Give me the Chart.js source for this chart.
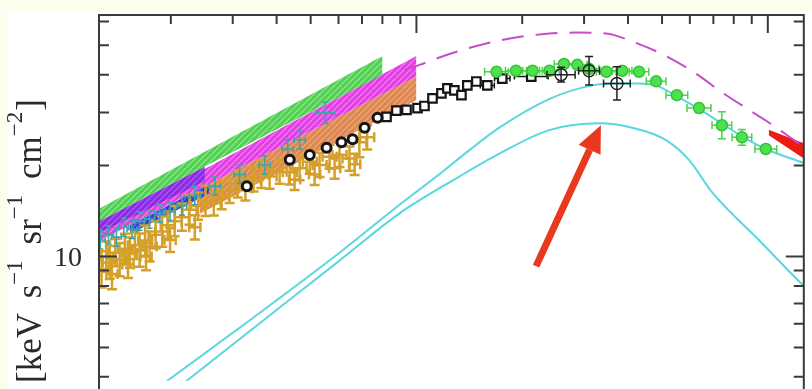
<!DOCTYPE html>
<html>
<head>
<meta charset="utf-8">
<script src="https://cdn.jsdelivr.net/npm/chart.js@4.4.1/dist/chart.umd.min.js"></script>
<style>
  html, body { margin: 0; padding: 0; background: #fdfdee; }
  canvas { display: block; }
</style>
</head>
<body>
<canvas id="cxbChart" width="812" height="389"></canvas>
<script>
// energy in keV, flux in keV s-1 sr-1 cm-2 (E^2 dN/dE)

// gold crosses (soft X-ray points)
const goldE = [1.27, 1.31, 1.34, 1.36, 1.39, 1.43, 1.48, 1.51, 1.53, 1.58, 1.63, 1.69, 1.70, 1.74, 1.81, 1.89, 1.96, 1.99,
  2.05, 2.15, 2.26, 2.34, 2.39, 2.51, 2.65, 2.79, 2.94, 3.10, 3.26, 3.44, 3.62, 3.82, 4.08, 4.36, 4.50,
  4.65, 4.97, 5.13, 5.30, 5.66, 5.85, 6.04, 6.45, 6.67, 6.88, 7.24];
const goldF = [9.08, 10.0, 9.56, 8.75, 10.3, 9.78, 10.6, 9.42, 10.3, 10.9, 10.5, 11.3, 10.0, 10.8, 11.8, 12.1, 12.7, 11.35,
  13.1, 13.5, 14.3, 12.5, 14.7, 15.3, 15.0, 15.9, 16.5, 17.4, 16.8, 18.0, 18.7, 18.4, 19.1, 19.0, 18.0,
  19.6, 20.6, 18.7, 20.1, 21.4, 19.6, 21.7, 21.1, 20.2, 23.9, 24.8];
const goldErrF = [0.06, 0.05, 0.055, 0.05, 0.045, 0.055, 0.05, 0.045, 0.05, 0.045, 0.055, 0.05, 0.045, 0.05, 0.045, 0.05, 0.045, 0.04,
  0.05, 0.045, 0.05, 0.04, 0.045, 0.05, 0.04, 0.045, 0.04, 0.045, 0.04, 0.04, 0.045, 0.04, 0.04, 0.04, 0.035,
  0.04, 0.04, 0.035, 0.04, 0.04, 0.035, 0.04, 0.04, 0.035, 0.05, 0.04];
const goldErrE = [0.02, 0.02, 0.02, 0.016, 0.02, 0.02, 0.02, 0.016, 0.02, 0.02, 0.02, 0.02, 0.016, 0.02, 0.02, 0.02, 0.02, 0.016,
  0.02, 0.02, 0.02, 0.016, 0.02, 0.02, 0.02, 0.02, 0.02, 0.02, 0.02, 0.02, 0.02, 0.02, 0.02, 0.02, 0.016,
  0.02, 0.02, 0.016, 0.02, 0.02, 0.016, 0.02, 0.02, 0.016, 0.02, 0.02];

// teal crosses
const tealE = [1.26, 1.33, 1.40, 1.47, 1.55, 1.63, 1.74, 1.86, 1.99, 2.15, 2.34, 2.67, 3.14, 3.70, 4.30, 4.65, 5.51];
const tealF = [11.35, 11.8, 11.6, 12.5, 12.3, 13.1, 13.3, 13.9, 14.1, 14.7, 15.9, 17.1, 18.7, 20.1, 22.7, 24.3, 29.9];
const tealErrF = [0.03, 0.03, 0.03, 0.03, 0.03, 0.03, 0.03, 0.03, 0.03, 0.03, 0.03, 0.03, 0.03, 0.03, 0.03, 0.03, 0.035];
const tealErrE = [0.014, 0.014, 0.014, 0.014, 0.014, 0.014, 0.014, 0.014, 0.014, 0.014, 0.016, 0.016, 0.016, 0.016, 0.016, 0.016, 0.028];

// black points
const blackRoundE = [3.29, 4.36, 4.97, 5.55, 6.12, 6.58, 7.12, 7.75];
const blackRoundF = [17.1, 20.9, 21.7, 22.9, 23.9, 24.45, 26.7, 28.8];
const blackSquareE = [8.22, 8.77, 9.37, 10.07, 10.54, 11.11, 11.78, 12.25, 12.82, 13.43, 13.96, 14.81, 15.91, 17.55, 21.22];
const blackSquareF = [29.0, 30.4, 30.6, 31.0, 31.5, 33.4, 34.7, 36.0, 35.5, 34.2, 36.85, 37.96, 36.85, 38.8, 39.4];
const blackSquareErrE = [0.01, 0.01, 0.01, 0.01, 0.01, 0.01, 0.01, 0.01, 0.01, 0.01, 0.01, 0.012, 0.02, 0.022, 0.048];
const blackSquareErrF = [0.01, 0.01, 0.01, 0.01, 0.01, 0.01, 0.01, 0.01, 0.01, 0.01, 0.01, 0.01, 0.01, 0.01, 0.01];
const blackOpenE = [25.8, 31.0, 37.2];
const blackOpenF = [40.0, 41.2, 37.4];
const blackOpenErrE = [0.04, 0.03, 0.038];
const blackOpenErrF = [0.024, 0.047, 0.055];

// green circles (hard X-ray)
const greenE = [16.9, 19.2, 21.4, 23.9, 26.3, 28.7, 31.0, 34.7, 38.5, 43.0, 48.1, 55.1, 63.7, 74.0, 84.4, 98.7];
const greenF = [40.9, 41.2, 41.2, 41.2, 43.4, 43.1, 41.8, 40.9, 41.2, 40.9, 38.0, 34.2, 31.0, 27.2, 24.8, 22.7];
const greenErrE = [0.034, 0.03, 0.028, 0.028, 0.028, 0.028, 0.028, 0.028, 0.028, 0.028, 0.028, 0.031, 0.034, 0.028, 0.028, 0.031];
const greenErrF = [0.01, 0.01, 0.01, 0.01, 0.01, 0.01, 0.01, 0.01, 0.01, 0.01, 0.012, 0.012, 0.015, 0.045, 0.026, 0.012];

// model curves
const modelE = [9.25, 10.2, 12.41, 17.21, 23.87, 28.5, 34.66, 41.09, 51.31, 63.68, 72.6, 88.3, 98.7, 112.5, 126.6, 135.1];
const modelF = [41.5, 43.1, 46.8, 51.9, 54.7, 55.1, 54.7, 51.5, 46.1, 39.7, 35.5, 30.6, 28.2, 25.4, 23.05, 22.0];
const cyanUpperE = [1.433, 3.355, 6.04, 8.95, 11.40, 14.15, 17.21, 23.87, 31.62, 37.24, 43.0, 48.06, 55.14, 63.68, 74.0, 84.4, 98.7, 126.6, 135.1];
const cyanUpperF = [2.98, 6.16, 10.3, 14.84, 18.4, 22.5, 26.7, 33.2, 36.85, 37.4, 37.4, 36.85, 33.9, 30.8, 27.55, 25.0, 22.7, 20.4, 19.85];
const cyanLowerE = [1.633, 3.581, 6.04, 8.95, 13.25, 17.21, 23.87, 33.11, 41.09, 51.31, 59.65, 69.35, 94.3, 126.6, 135.1];
const cyanLowerF = [2.93, 6.02, 9.7, 13.9, 18.4, 21.9, 26.2, 27.6, 26.7, 24.3, 20.9, 16.35, 11.35, 8.0, 7.48];

// hatched bands: [E at start, E at end], lower and upper edge fluxes
const greenBandE = [1.249, 8.006];
const greenBandLo = [13.08, 40.0];
const greenBandHi = [14.4, 46.1];
const magentaBandE = [1.249, 10.0];
const magentaBandLo = [11.27, 39.4];
const magentaBandHi = [12.69, 46.1];
const violetBandE = [1.249, 2.50];
const violetBandLo = [11.96, 17.75];
const violetBandHi = [13.08, 19.85];
const blueBandE = [1.53, 2.582];
const blueBandLo = [11.87, 16.2];
const blueBandHi = [12.69, 17.43];
const orangeBandE = [2.42, 10.0];
const orangeBandLo = [13.86, 32.95];
const orangeBandHi = [16.76, 39.4];
const redBandE = [100.6, 126.6];
const redBandLo = [25.2, 21.1];
const redBandHi = [26.3, 23.7];

// red arrow (tail, tip) in data coordinates
const arrowTail = [21.9, 9.3];
const arrowTip = [33.5, 27.2];

// axis ticks
const xTickValues = [2, 3, 4, 5, 6, 7, 8, 9, 10, 20, 30, 40, 50, 60, 70, 80, 90, 100];
const xMajorTicks = [10, 100];
const yTickValues = [4, 5, 6, 7, 8, 9, 10, 20, 30, 40, 50, 60];
const yMajorTicks = [10];
const yTickLabels = ["10"];
const yLabelParts = [["[keV", false], [" s", false], ["\u22121", true], [" sr", false], ["\u22121", true], [" cm", false], ["\u22122", true], ["]", false]];

function pts(xs, ys) {
  return xs.map((x, i) => ({ x: x, y: ys[i] }));
}

function hatch(base, line) {
  const c = document.createElement("canvas");
  c.width = 6;
  c.height = 6;
  const g = c.getContext("2d");
  g.fillStyle = base;
  g.fillRect(0, 0, 6, 6);
  g.strokeStyle = line;
  g.lineWidth = 1.3;
  g.beginPath();
  for (let k = -6; k <= 6; k += 6) {
    g.moveTo(k, 6);
    g.lineTo(k + 6, 0);
  }
  g.stroke();
  return g.createPattern(c, "repeat");
}

function edge(e, f, order) {
  return { data: pts(e, f), showLine: true, borderWidth: 0, pointRadius: 0, fill: false, order: order };
}

function band(e, f, pattern, order) {
  return { data: pts(e, f), showLine: true, borderWidth: 0, pointRadius: 0, fill: "-1", backgroundColor: pattern, order: order };
}

const datasets = [
  edge(magentaBandE, magentaBandLo, 20),
  band(magentaBandE, magentaBandHi, hatch("#e23fe2", "#f07ef0"), 20),
  edge(orangeBandE, orangeBandLo, 21),
  band(orangeBandE, orangeBandHi, hatch("#de8752", "#eaa77c"), 21),
  edge(blueBandE, blueBandLo, 18),
  band(blueBandE, blueBandHi, hatch("#2e3ed6", "#5a6ae6"), 18),
  edge(violetBandE, violetBandLo, 17),
  band(violetBandE, violetBandHi, hatch("#8a2be2", "#a95cf0"), 17),
  edge(greenBandE, greenBandLo, 16),
  band(greenBandE, greenBandHi, hatch("#52cf52", "#8fe48f"), 16),
  edge(redBandE, redBandLo, 15),
  band(redBandE, redBandHi, "#ee1a12", 15),
  {
    data: pts(cyanUpperE, cyanUpperF), showLine: true, borderColor: "#5ad7de", borderWidth: 2,
    pointRadius: 0, cubicInterpolationMode: "monotone", order: 12
  },
  {
    data: pts(cyanLowerE, cyanLowerF), showLine: true, borderColor: "#5ad7de", borderWidth: 2,
    pointRadius: 0, cubicInterpolationMode: "monotone", order: 12
  },
  {
    data: pts(modelE, modelF), showLine: true, borderColor: "#c84bcb", borderWidth: 2, borderDash: [22, 12],
    pointRadius: 0, cubicInterpolationMode: "monotone", order: 11
  },
  {
    data: pts(goldE, goldF), pointRadius: 0, errE: goldErrE, errF: goldErrF,
    errColor: "#d4a02a", errWidth: 2.5, errCap: 5, order: 9
  },
  {
    data: pts(tealE, tealF), pointRadius: 0, errE: tealErrE, errF: tealErrF,
    errColor: "#3aa6aa", errWidth: 1.6, errCap: 3, order: 8
  },
  {
    data: pts(blackRoundE, blackRoundF), pointStyle: "circle", pointRadius: 4.5,
    borderColor: "#151515", borderWidth: 3, backgroundColor: "#ffffff", order: 6
  },
  {
    data: pts(blackSquareE, blackSquareF), pointStyle: "rect", pointRadius: 6,
    borderColor: "#151515", borderWidth: 2.2, backgroundColor: "#ffffff",
    errE: blackSquareErrE, errF: blackSquareErrF, errColor: "#151515", errWidth: 1.5, errCap: 3, order: 6
  },
  {
    data: pts(greenE, greenF), pointStyle: "circle", pointRadius: 5.5,
    borderColor: "#33c433", borderWidth: 1.5, backgroundColor: "#4fe04f",
    errE: greenErrE, errF: greenErrF, errColor: "#49d449", errWidth: 1.5, errCap: 4, order: 5
  },
  {
    data: pts(blackOpenE, blackOpenF), pointStyle: "circle", pointRadius: 6,
    borderColor: "#222222", borderWidth: 1.5, backgroundColor: "rgba(0,0,0,0)",
    errE: blackOpenErrE, errF: blackOpenErrF, errColor: "#222222", errWidth: 1.5, errCap: 4, order: 4
  }
];

const errorBars = {
  id: "errorBars",
  beforeDatasetDraw(chart, args) {
    const ds = chart.data.datasets[args.index];
    if (!ds.errE && !ds.errF) return;
    const xs = chart.scales.x, ys = chart.scales.y, a = chart.chartArea;
    const ctx = chart.ctx;
    const cap = ds.errCap || 0;
    ctx.save();
    ctx.beginPath();
    ctx.rect(a.left, a.top, a.right - a.left, a.bottom - a.top);
    ctx.clip();
    ctx.strokeStyle = ds.errColor;
    ctx.lineWidth = ds.errWidth;
    args.meta.data.forEach((p, j) => {
      const d = ds.data[j];
      ctx.beginPath();
      if (ds.errE) {
        const x0 = xs.getPixelForValue(d.x / Math.pow(10, ds.errE[j]));
        const x1 = xs.getPixelForValue(d.x * Math.pow(10, ds.errE[j]));
        ctx.moveTo(x0, p.y); ctx.lineTo(x1, p.y);
        ctx.moveTo(x0, p.y - cap); ctx.lineTo(x0, p.y + cap);
        ctx.moveTo(x1, p.y - cap); ctx.lineTo(x1, p.y + cap);
      }
      if (ds.errF) {
        const y0 = ys.getPixelForValue(d.y / Math.pow(10, ds.errF[j]));
        const y1 = ys.getPixelForValue(d.y * Math.pow(10, ds.errF[j]));
        ctx.moveTo(p.x, y0); ctx.lineTo(p.x, y1);
        ctx.moveTo(p.x - cap, y0); ctx.lineTo(p.x + cap, y0);
        ctx.moveTo(p.x - cap, y1); ctx.lineTo(p.x + cap, y1);
      }
      ctx.stroke();
    });
    ctx.restore();
  }
};

const frame = {
  id: "frame",
  beforeDraw(chart) {
    const ctx = chart.ctx;
    ctx.save();
    ctx.fillStyle = "#fdfdee";
    ctx.fillRect(0, 0, chart.width, chart.height);
    ctx.fillStyle = "#ffffff";
    ctx.fillRect(8, 11, chart.width - 8, chart.height - 11);
    ctx.restore();
  },
  afterDatasetsDraw(chart) {
    const ctx = chart.ctx, a = chart.chartArea;
    const xs = chart.scales.x, ys = chart.scales.y;

    // red arrow
    const x0 = xs.getPixelForValue(arrowTail[0]), y0 = ys.getPixelForValue(arrowTail[1]);
    const x1 = xs.getPixelForValue(arrowTip[0]), y1 = ys.getPixelForValue(arrowTip[1]);
    const ang = Math.atan2(y1 - y0, x1 - x0);
    const headLen = 27, headHalf = 12;
    const bx = x1 - headLen * Math.cos(ang), by = y1 - headLen * Math.sin(ang);
    ctx.save();
    ctx.strokeStyle = "#e8391e";
    ctx.fillStyle = "#e8391e";
    ctx.lineWidth = 7;
    ctx.beginPath();
    ctx.moveTo(x0, y0);
    ctx.lineTo(bx, by);
    ctx.stroke();
    ctx.beginPath();
    ctx.moveTo(x1, y1);
    ctx.lineTo(bx + headHalf * Math.sin(ang), by - headHalf * Math.cos(ang));
    ctx.lineTo(bx - headHalf * Math.sin(ang), by + headHalf * Math.cos(ang));
    ctx.closePath();
    ctx.fill();
    ctx.restore();

    // frame
    ctx.save();
    ctx.strokeStyle = "#3a3a3a";
    ctx.lineWidth = 2;
    ctx.beginPath();
    ctx.moveTo(a.left, chart.height + 2);
    ctx.lineTo(a.left, a.top);
    ctx.lineTo(a.right, a.top);
    ctx.lineTo(a.right, chart.height + 2);
    ctx.stroke();

    // inward ticks
    ctx.beginPath();
    xTickValues.forEach(v => {
      const px = xs.getPixelForValue(v);
      const len = xMajorTicks.includes(v) ? 18 : 9;
      ctx.moveTo(px, a.top);
      ctx.lineTo(px, a.top + len);
    });
    yTickValues.forEach(v => {
      const py = ys.getPixelForValue(v);
      const len = yMajorTicks.includes(v) ? 18 : 10;
      ctx.moveTo(a.left, py);
      ctx.lineTo(a.left + len, py);
      ctx.moveTo(a.right, py);
      ctx.lineTo(a.right - len, py);
    });
    ctx.stroke();

    // tick labels
    ctx.fillStyle = "#2a2a2a";
    ctx.font = '28px "Liberation Serif"';
    ctx.textAlign = "right";
    ctx.textBaseline = "middle";
    yMajorTicks.forEach((v, i) => {
      ctx.fillText(yTickLabels[i], a.left - 17, ys.getPixelForValue(v) + 2);
    });

    // axis title, rotated, with a little extra room between the units
    ctx.translate(41, 383);
    ctx.rotate(-Math.PI / 2);
    ctx.textAlign = "left";
    ctx.textBaseline = "alphabetic";
    let x = 0;
    yLabelParts.forEach(([txt, sup]) => {
      ctx.font = sup ? '23px "Liberation Serif"' : '35px "Liberation Serif"';
      if (txt.startsWith(" ")) x += 6;
      ctx.fillText(txt, x, sup ? -19 : 0);
      x += ctx.measureText(txt).width + (sup ? 1 : 0);
    });
    ctx.restore();
  }
};

new Chart(document.getElementById("cxbChart"), {
  type: "scatter",
  data: { datasets: datasets },
  options: {
    responsive: false,
    animation: false,
    devicePixelRatio: 1,
    layout: { padding: { left: 99, top: 15, right: 7, bottom: 0 } },
    scales: {
      x: { type: "logarithmic", min: 1.249, max: 126.6, display: false },
      y: { type: "logarithmic", min: 3.882, max: 63.0, display: false }
    },
    plugins: {
      legend: { display: false },
      tooltip: { enabled: false }
    }
  },
  plugins: [frame, errorBars]
});
</script>
</body>
</html>
